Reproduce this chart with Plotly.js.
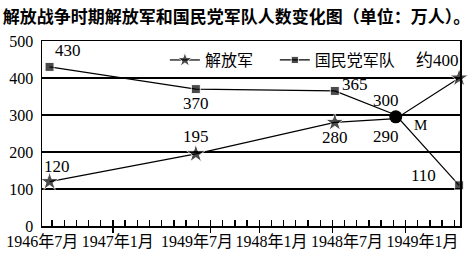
<!DOCTYPE html>
<html>
<head>
<meta charset="utf-8">
<script src="https://cdn.plot.ly/plotly-3.0.1.min.js"></script>
<style>html,body{margin:0;padding:0;background:#fff;}#chart{width:475px;height:261px;}</style>
</head>
<body>
<div id="chart"></div>
<script>
// x positions in month-tick units along the schematic axis
const pointX = [-0.2, 11.8, 23.2, 28.2, 33.4];
const pla = [120, 195, 280, 290, 400];          // 解放军
const kmt = [430, 370, 365, 300, 110];          // 国民党军队
const meetY = [295];                             // M point
const plaLabels = ['120', '195', '280', '290', '约400'];
const kmtLabels = ['430', '370', '365', '300', '110'];
const xLabelPos = [-0.8, 5.4, 11.9, 18.0, 24.2, 30.4];
const xLabels = ['1946年7月', '1947年1月', '1949年7月', '1948年1月', '1948年7月', '1949年1月'];
const majorTicks = [5, 13, 17, 23, 29];
const yTicks = [0, 100, 200, 300, 400, 500];

const serif = '"Liberation Serif", "Noto Sans CJK SC", serif';
const plaOff = [[7, -15], [0, -17], [0, 15], [-10, 18], [-22, -18]];
const kmtOff = [[18, -16], [0, 14], [20, -6], [-10, -15], [-36, -10]];

const annotations = [];
pointX.forEach((x, i) => {
  annotations.push({x: x, y: pla[i], text: plaLabels[i], showarrow: false,
    xshift: plaOff[i][0], yshift: -plaOff[i][1], font: {family: serif, size: 17, color: '#000'}});
  annotations.push({x: x, y: kmt[i], text: kmtLabels[i], showarrow: false,
    xshift: kmtOff[i][0], yshift: -kmtOff[i][1], font: {family: serif, size: 17, color: '#000'}});
});
annotations.push({x: pointX[3], y: meetY[0], text: 'M', showarrow: false, xshift: 25, yshift: -8,
  font: {family: serif, size: 15, color: '#000'}});

const traces = [
  {x: pointX, y: pla, name: '解放军', type: 'scatter', mode: 'lines+markers', cliponaxis: false,
   legend: 'legend',
   line: {color: '#000', width: 1.2},
   marker: {symbol: 'star', size: [14, 14, 14, 0, 14], color: '#000'}},
  {x: pointX, y: kmt, name: '国民党军队', type: 'scatter', mode: 'lines+markers', cliponaxis: false,
   legend: 'legend2',
   line: {color: '#000', width: 1.2},
   marker: {symbol: 'square', size: [9, 9, 9, 0, 9], color: '#000'}},
  {x: [pointX[3]], y: meetY, name: 'M', type: 'scatter', mode: 'markers', showlegend: false, cliponaxis: false,
   marker: {symbol: 'circle', size: 13, color: '#000'}},
  {x: [pointX[0]], y: [0], xaxis: 'x2', type: 'scatter', mode: 'markers', showlegend: false,
   marker: {opacity: 0}, hoverinfo: 'skip'}
];

const legendFont = {family: '"Noto Sans CJK SC", sans-serif', size: 16, color: '#000'};
const xr = [-0.82, 33.47];
const layout = {
  width: 475, height: 261,
  margin: {l: 42, r: 15, t: 41, b: 35, autoexpand: false},
  paper_bgcolor: '#fff', plot_bgcolor: '#fff',
  title: {text: '解放战争时期解放军和国民党军队人数变化图（单位：万人）。', x: 0.006, xanchor: 'left', xref: 'container',
    y: 0.935, yanchor: 'middle', yref: 'container', automargin: false,
    font: {family: '"Noto Sans CJK SC", sans-serif', size: 17, weight: 700, color: '#000'}},
  xaxis: {range: xr, tickmode: 'array', tickvals: xLabelPos, ticktext: xLabels, ticks: '', tickangle: 0,
    automargin: false,
    minor: {tickmode: 'linear', tick0: 0, dtick: 1, ticks: 'inside', ticklen: 6, tickwidth: 1.3,
      tickcolor: '#000', showgrid: false},
    showgrid: false, zeroline: false, showline: true, linecolor: '#000', linewidth: 1.5, mirror: true,
    tickfont: {family: serif, size: 16, color: '#000'}, fixedrange: true},
  xaxis2: {range: xr, overlaying: 'x', anchor: 'y', side: 'bottom', tickmode: 'array', tickvals: majorTicks,
    ticks: 'outside', ticklen: 6, tickwidth: 1.3, tickcolor: '#000', showticklabels: false, automargin: false,
    showgrid: false, zeroline: false, showline: false},
  yaxis: {range: [0, 500], tickmode: 'array', tickvals: yTicks, ticks: '', showgrid: true, automargin: false,
    gridcolor: '#000', gridwidth: 1.3, zeroline: false, showline: true, linecolor: '#000', linewidth: 1.5,
    mirror: true, tickfont: {family: serif, size: 16, color: '#000'}, ticklabelstandoff: 4, fixedrange: true},
  legend: {orientation: 'h', x: 0.294, xanchor: 'left', y: 0.897, yanchor: 'middle',
    bgcolor: 'rgba(0,0,0,0)', borderwidth: 0, font: legendFont},
  legend2: {orientation: 'h', x: 0.557, xanchor: 'left', y: 0.897, yanchor: 'middle',
    bgcolor: 'rgba(0,0,0,0)', borderwidth: 0, font: legendFont},
  annotations: annotations,
  showlegend: true
};

Plotly.newPlot('chart', traces, layout, {displayModeBar: false, staticPlot: true});
</script>
</body>
</html>
